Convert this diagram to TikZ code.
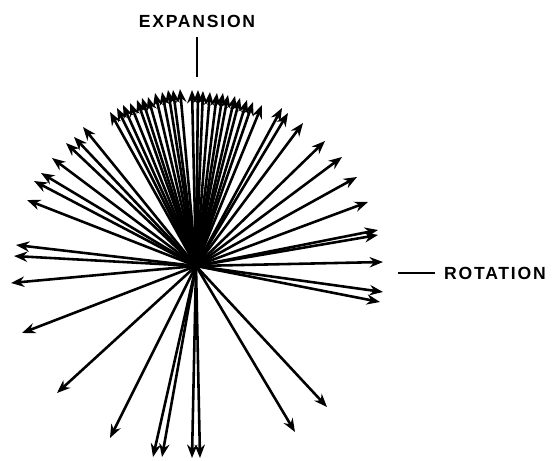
\documentclass[tikz,border=0pt]{standalone}
\usepackage{fontspec}
\setmainfont{Liberation Sans}
\newfontfamily\labelfont{Liberation Sans}[LetterSpace=10]
\usetikzlibrary{arrows.meta}

\begin{document}
\begin{tikzpicture}[x={(0.03cm,0)}, y={(0,-0.03cm)},
    vec/.style={line width=2.2pt, -{Stealth[length=4mm, width=3.1mm, inset=1.3mm]}},
    tick/.style={line width=1.8pt},
    axislabel/.style={font={\labelfont\bfseries\fontsize{15}{15}\selectfont}, inner sep=0pt}]
    \useasboundingbox (0,0) rectangle (554,461);
    \coordinate (o) at (196,266);
    % tips of the vectors, in picture pixels
    \foreach \x/\y [count=\i] in {110/112, 117/108, 123/105, 130/103, 137/100, 142/98,
        148/97, 155/93, 162/92, 168/90, 173/90, 180/89, 192/90, 198/90, 203/91,
        210/92, 217/93, 223/93, 228/95, 235/96, 240/98, 247/100, 253/102, 262/105,
        282/108, 288/113, 303/123, 325/141, 342/157, 357/177, 368/202, 378/230,
        378/235, 383/262, 383/292, 380/302, 327/407, 295/432, 200/458, 192/458,
        162/457, 153/457, 110/438, 57/393, 22/333, 11/283, 14/256, 16/245,
        27/200, 34/181, 41/173, 52/158, 66/143, 74/137, 83/127} {
        \coordinate (t\i) at (\x,\y);
        \draw[vec] (o) -- (t\i);
    }
    \node[axislabel] (expansion) at (197,21) {EXPANSION};
    \node[axislabel, anchor=west] (rotation) at (444,273) {ROTATION};
    \coordinate (e1) at (197,37);
    \coordinate (e2) at (197,77);
    \coordinate (r1) at (398,273);
    \coordinate (r2) at (435,273);
    \draw[tick] (e1) -- (e2);
    \draw[tick] (r1) -- (r2);
\end{tikzpicture}
\end{document}
